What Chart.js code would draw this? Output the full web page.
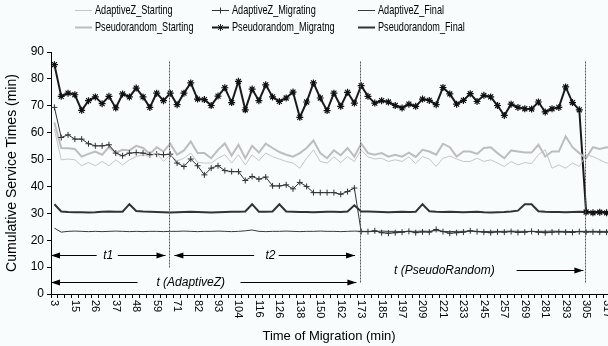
<!DOCTYPE html>
<html>
<head>
<meta charset="utf-8">
<script src="https://cdn.jsdelivr.net/npm/chart.js@4.4.1/dist/chart.umd.min.js"></script>
<style>
  html, body { margin: 0; padding: 0; background: #f8fcfd; overflow: hidden; }
  canvas { display: block; }
</style>
</head>
<body>
<canvas id="grafico" width="622" height="346"></canvas>
<script>
// tempos de migracao (min) - uma categoria por amostra
const tempos = [3, 7, 11, 15, 18, 22, 26, 30, 33, 37,
  41, 45, 48, 52, 56, 59, 63, 67, 71, 74,
  78, 82, 86, 89, 93, 97, 101, 104, 108, 112,
  116, 119, 123, 126, 130, 134, 138, 142, 146, 150,
  154, 158, 162, 165, 169, 173, 177, 181, 185, 189,
  193, 197, 201, 205, 209, 213, 217, 221, 225, 229,
  233, 237, 241, 245, 249, 253, 257, 261, 265, 269,
  273, 277, 281, 285, 289, 293, 297, 301, 305, 309,
  313, 317, 321];

// rotulos que aparecem no eixo x
const rotulosEixoX = [3, 15, 26, 37, 48, 59, 71, 82, 93, 104, 116, 126, 138, 150,
  162, 173, 185, 197, 209, 221, 233, 245, 257, 269, 281, 293, 305, 317];

const adaptiveStarting = [61.3, 49.9, 50.2, 49.9, 47.7, 48.9, 47.7, 49.3, 47.7, 49.9,
  48.0, 49.9, 51.1, 51.8, 51.1, 52.4, 49.3, 51.8, 49.5, 50.5,
  52.4, 49.0, 48.7, 48.7, 50.5, 51.8, 48.7, 51.8, 48.0, 51.8,
  49.6, 52.4, 51.1, 50.2, 49.3, 48.7, 46.8, 50.5, 53.6, 49.3,
  48.7, 51.0, 48.9, 51.1, 49.3, 53.6, 51.0, 50.2, 50.5, 49.3,
  49.9, 49.3, 51.0, 48.5, 51.1, 50.2, 47.4, 50.5, 51.3, 50.2,
  49.3, 49.3, 50.5, 49.3, 49.9, 48.7, 47.4, 49.3, 48.0, 48.9,
  48.5, 51.8, 53.6, 46.8, 48.0, 46.8, 48.7, 47.4, 51.8, 51.1,
  49.9, 48.7, 49.5];

const adaptiveMigrating = [69.4, 58.2, 59.2, 57.6, 57.6, 55.9, 55.1, 55.1, 55.5, 52.4,
  51.4, 52.4, 52.6, 52.4, 51.8, 52.0, 51.8, 52.0, 48.7, 47.4,
  50.2, 47.7, 44.3, 46.8, 47.7, 45.9, 45.5, 45.5, 42.2, 43.7,
  42.7, 43.5, 40.2, 40.2, 40.6, 39.1, 41.5, 40.0, 37.7, 37.7,
  37.7, 37.7, 37.1, 38.1, 39.4, 23.2, 23.2, 23.5, 22.8, 22.6,
  22.8, 23.0, 23.3, 22.8, 23.1, 23.0, 24.0, 23.2, 22.6, 22.8,
  23.0, 23.5, 23.2, 23.0, 22.8, 23.1, 23.0, 23.2, 22.9, 23.0,
  23.3, 23.0, 22.8, 23.0, 23.1, 23.0, 22.9, 23.2, 23.0, 23.1,
  23.0, 23.0, 23.2];

const adaptiveFinal = [24.5, 23.0, 23.3, 23.4, 23.3, 23.2, 23.3, 23.2, 23.3, 23.4,
  23.3, 23.2, 23.3, 23.2, 23.3, 23.3, 23.2, 23.3, 23.3, 23.4,
  23.3, 23.2, 23.3, 23.3, 23.4, 23.3, 23.2, 23.3, 23.5, 23.8,
  23.3, 23.2, 23.3, 23.3, 23.4, 23.3, 23.2, 23.3, 23.3, 23.4,
  23.3, 23.3, 23.2, 23.3, 23.4, 23.3, 23.3, 23.2, 23.4, 23.3,
  23.3, 23.2, 23.3, 23.3, 23.4, 23.3, 23.6, 23.3, 23.2, 23.3,
  23.3, 23.4, 23.3, 23.2, 23.3, 23.3, 23.3, 23.4, 23.3, 23.3,
  23.2, 23.3, 23.3, 23.4, 23.3, 23.3, 23.2, 23.3, 23.3, 23.3,
  23.3, 23.3, 23.3];

const pseudoStarting = [63.8, 54.3, 54.2, 53.9, 51.1, 52.1, 53.0, 51.8, 54.6, 52.6,
  53.6, 53.4, 55.1, 54.3, 52.1, 54.6, 53.0, 55.9, 51.8, 53.4,
  56.7, 52.4, 52.4, 50.5, 53.6, 56.0, 51.5, 55.5, 50.5, 55.1,
  52.6, 55.9, 54.3, 52.8, 51.8, 51.1, 52.4, 54.3, 57.1, 52.4,
  50.5, 53.4, 51.6, 54.3, 51.1, 55.9, 52.4, 51.8, 52.4, 51.1,
  51.8, 51.1, 52.6, 51.0, 53.6, 53.0, 51.8, 55.9, 54.6, 51.1,
  53.0, 53.0, 52.1, 54.3, 54.6, 52.4, 50.5, 53.4, 53.0, 52.6,
  52.6, 55.5, 51.1, 53.0, 53.0, 58.6, 54.6, 52.4, 50.5, 54.6,
  53.9, 54.6, 54.0];

const pseudoMigrating = [85.3, 73.5, 74.7, 74.1, 68.3, 71.9, 73.3, 70.8, 73.5, 69.2,
  74.4, 73.3, 76.6, 73.3, 69.4, 74.7, 71.9, 74.7, 70.4, 74.7,
  78.5, 72.5, 72.3, 70.1, 73.6, 76.7, 71.2, 79.1, 68.5, 76.2,
  71.9, 77.8, 73.3, 71.6, 72.9, 75.1, 65.7, 71.4, 78.5, 72.9,
  68.2, 74.7, 69.8, 75.0, 71.0, 77.5, 73.5, 71.0, 71.9, 71.4,
  70.1, 69.2, 70.6, 69.8, 72.5, 72.0, 70.4, 76.8, 74.4, 70.6,
  72.0, 74.5, 71.6, 73.9, 73.3, 70.1, 66.4, 70.6, 69.4, 68.9,
  68.8, 71.4, 67.7, 68.9, 69.4, 77.0, 71.2, 68.5, 30.5, 30.2,
  30.4, 30.2, 30.4];

const pseudoFinal = [33.4, 30.7, 30.5, 30.4, 30.4, 30.3, 30.4, 30.6, 30.7, 30.6,
  30.6, 33.4, 30.9, 30.7, 30.6, 30.5, 30.4, 30.3, 30.4, 30.5,
  30.6, 30.5, 30.4, 30.3, 30.4, 30.5, 30.6, 30.6, 30.7, 33.4,
  30.6, 30.6, 30.7, 33.4, 30.7, 30.6, 30.5, 30.5, 30.4, 30.5,
  30.6, 30.6, 30.5, 30.7, 33.0, 30.7, 30.7, 30.6, 30.5, 30.4,
  30.5, 30.6, 30.5, 30.6, 33.4, 30.8, 30.6, 30.5, 30.6, 30.5,
  30.4, 30.5, 30.6, 30.4, 30.3, 30.4, 30.5, 30.7, 31.0, 33.4,
  33.4, 30.8, 30.6, 30.5, 30.5, 30.4, 30.5, 30.6, 30.5, 30.5,
  30.5, 30.5, 30.5];

// categorias onde ficam as linhas verticais tracejadas (67, 173 e 305 min)
const divisoes = [{ idx: 17, topo: 86.8, base: 10 }, { idx: 45, topo: 86.8, base: 4 }, { idx: 78, topo: 86.8, base: 4 }];

const FONTE = '"Liberation Sans", Arial, sans-serif';
Chart.defaults.font.family = FONTE;
Chart.defaults.color = '#000';

const fundo = {
  id: 'fundo',
  beforeDraw(chart) {
    const c = chart.ctx;
    c.save();
    c.fillStyle = '#f8fcfd';
    c.fillRect(0, 0, chart.width, chart.height);
    c.restore();
  }
};

function seta(c, x, y, dir) {
  c.beginPath();
  c.moveTo(x, y);
  c.lineTo(x - dir * 9, y - 3);
  c.lineTo(x - dir * 9, y + 3);
  c.closePath();
  c.fill();
}

// linhas tracejadas + setas t1, t2, t(AdaptiveZ), t(PseudoRandom)
const anotacoes = {
  id: 'anotacoes',
  afterDatasetsDraw(chart) {
    const c = chart.ctx, sx = chart.scales.x, sy = chart.scales.y;
    const px = v => sx.getPixelForValue(v);
    const py = v => Math.round(sy.getPixelForValue(v)) + 0.5;
    c.save();
    c.strokeStyle = '#555';
    c.lineWidth = 1;
    c.setLineDash([2, 1]);
    divisoes.forEach(d => {
      const x = Math.round(px(d.idx)) - 0.5;
      c.beginPath();
      c.moveTo(x, py(d.topo));
      c.lineTo(x, py(d.base));
      c.stroke();
    });
    c.setLineDash([]);
    c.strokeStyle = '#000';
    c.fillStyle = '#000';
    c.font = 'italic 12px ' + FONTE;
    c.textAlign = 'center';
    c.textBaseline = 'middle';

    const faixas = [
      { y: 14.5, ini: -0.5, fim: 16.3, gap: [6.2, 9.3], txt: 't1', tx: 7.9, esq: true },
      { y: 14.5, ini: 17.6, fim: 44.1, gap: [29.3, 32.9], txt: 't2', tx: 31.7, esq: true },
      { y: 4.6, ini: -0.5, fim: 44.3, gap: [12.2, 27.3], txt: 't (AdaptiveZ)', tx: 20.0, esq: true },
      { y: 8.75, ini: 67.8, fim: 77.6, gap: null, txt: 't (PseudoRandom)', tx: 57.2, esq: false }
    ];
    faixas.forEach(f => {
      const y = py(f.y);
      c.beginPath();
      if (f.gap) {
        c.moveTo(px(f.ini), y); c.lineTo(px(f.gap[0]), y);
        c.moveTo(px(f.gap[1]), y); c.lineTo(px(f.fim), y);
      } else {
        c.moveTo(px(f.ini), y); c.lineTo(px(f.fim), y);
      }
      c.stroke();
      if (f.esq) seta(c, px(f.ini), y, -1);
      seta(c, px(f.fim), y, 1);
      c.fillText(f.txt, px(f.tx), y);
    });
    c.restore();
  }
};

function marcador(c, tipo, x, y, r) {
  c.beginPath();
  c.moveTo(x - r, y); c.lineTo(x + r, y);
  c.moveTo(x, y - r); c.lineTo(x, y + r);
  if (tipo === 'star') {
    const d = r * 0.707;
    c.moveTo(x - d, y - d); c.lineTo(x + d, y + d);
    c.moveTo(x - d, y + d); c.lineTo(x + d, y - d);
  }
  c.stroke();
}

// rotulos do eixo x (girados), titulo do eixo x e legenda em grade 3x2
const textos = {
  id: 'textos',
  afterDraw(chart) {
    const c = chart.ctx, sx = chart.scales.x;
    c.save();
    c.fillStyle = '#000';
    c.font = '11px ' + FONTE;
    c.textAlign = 'left';
    c.textBaseline = 'middle';
    tempos.forEach((t, i) => {
      if (!rotulosEixoX.includes(t)) return;
      c.save();
      c.translate(sx.getPixelForValue(i), sx.top + 6);
      c.rotate(Math.PI / 2);
      c.fillText(String(t), 0, 0);
      c.restore();
    });

    c.font = '13px ' + FONTE;
    c.textAlign = 'center';
    c.fillText('Time of Migration (min)', 329, 336);

    const colX = [75, 212, 358];
    const linY = [10, 27];
    c.textAlign = 'left';
    chart.data.datasets.forEach((ds, i) => {
      const x = colX[i % 3], y = linY[Math.floor(i / 3)] + 0.5;
      c.strokeStyle = ds.borderColor;
      c.lineWidth = ds.borderWidth;
      c.beginPath();
      c.moveTo(x, y); c.lineTo(x + 17, y);
      c.stroke();
      if (ds.pointRadius > 0) {
        c.lineWidth = 1;
        marcador(c, ds.pointStyle, x + 8.5, y, ds.pointRadius);
      }
      c.save();
      c.translate(x + 20, y);
      c.scale(0.72, 1);
      c.font = '12.7px ' + FONTE;
      c.fillStyle = '#000';
      c.fillText(ds.label, 0, 0);
      c.restore();
    });
    c.restore();
  }
};

new Chart(document.getElementById('grafico'), {
  type: 'line',
  data: {
    labels: tempos,
    datasets: [
      { label: 'AdaptiveZ_Starting', data: adaptiveStarting, borderColor: '#c6c6c6', borderWidth: 1, pointRadius: 0 },
      { label: 'AdaptiveZ_Migrating', data: adaptiveMigrating, borderColor: '#333', borderWidth: 1,
        pointStyle: 'cross', pointRadius: 3, pointBorderWidth: 1, pointBorderColor: '#333' },
      { label: 'AdaptiveZ_Final', data: adaptiveFinal, borderColor: '#3a3a3a', borderWidth: 1, pointRadius: 0 },
      { label: 'Pseudorandom_Starting', data: pseudoStarting, borderColor: '#bdbdbd', borderWidth: 2, pointRadius: 0 },
      { label: 'Pseudorandom_Migratng', data: pseudoMigrating, borderColor: '#1a1a1a', borderWidth: 2,
        pointStyle: 'star', pointRadius: 3.5, pointBorderWidth: 1.2, pointBorderColor: '#111' },
      { label: 'Pseudorandom_Final', data: pseudoFinal, borderColor: '#333', borderWidth: 2, pointRadius: 0 }
    ]
  },
  options: {
    responsive: false,
    animation: false,
    devicePixelRatio: 1,
    layout: { padding: { top: 52, right: 2, left: 0, bottom: 0 } },
    elements: { line: { tension: 0 } },
    plugins: {
      legend: { display: false },
      tooltip: { enabled: false }
    },
    scales: {
      x: {
        type: 'category',
        offset: true,
        grid: { offset: true, drawOnChartArea: false, drawTicks: true, tickLength: 4, color: '#000' },
        border: { display: true, color: '#000', width: 1 },
        ticks: { display: false },
        afterFit(scale) {
          scale.height = 52;
          scale.paddingLeft = 0;
          scale.paddingRight = 0;
        }
      },
      y: {
        min: 0,
        max: 90,
        ticks: { stepSize: 10, padding: 3, font: { size: 12 }, color: '#000' },
        grid: { drawOnChartArea: false, drawTicks: true, tickLength: 4, color: '#000' },
        border: { display: true, color: '#000', width: 1 },
        title: { display: true, text: 'Cumulative Service Times (min)', font: { size: 14 }, color: '#000', padding: { top: 4, bottom: 0 } },
        afterFit(scale) {
          scale.width = 51;
        }
      }
    }
  },
  plugins: [fundo, anotacoes, textos]
});
</script>
</body>
</html>
